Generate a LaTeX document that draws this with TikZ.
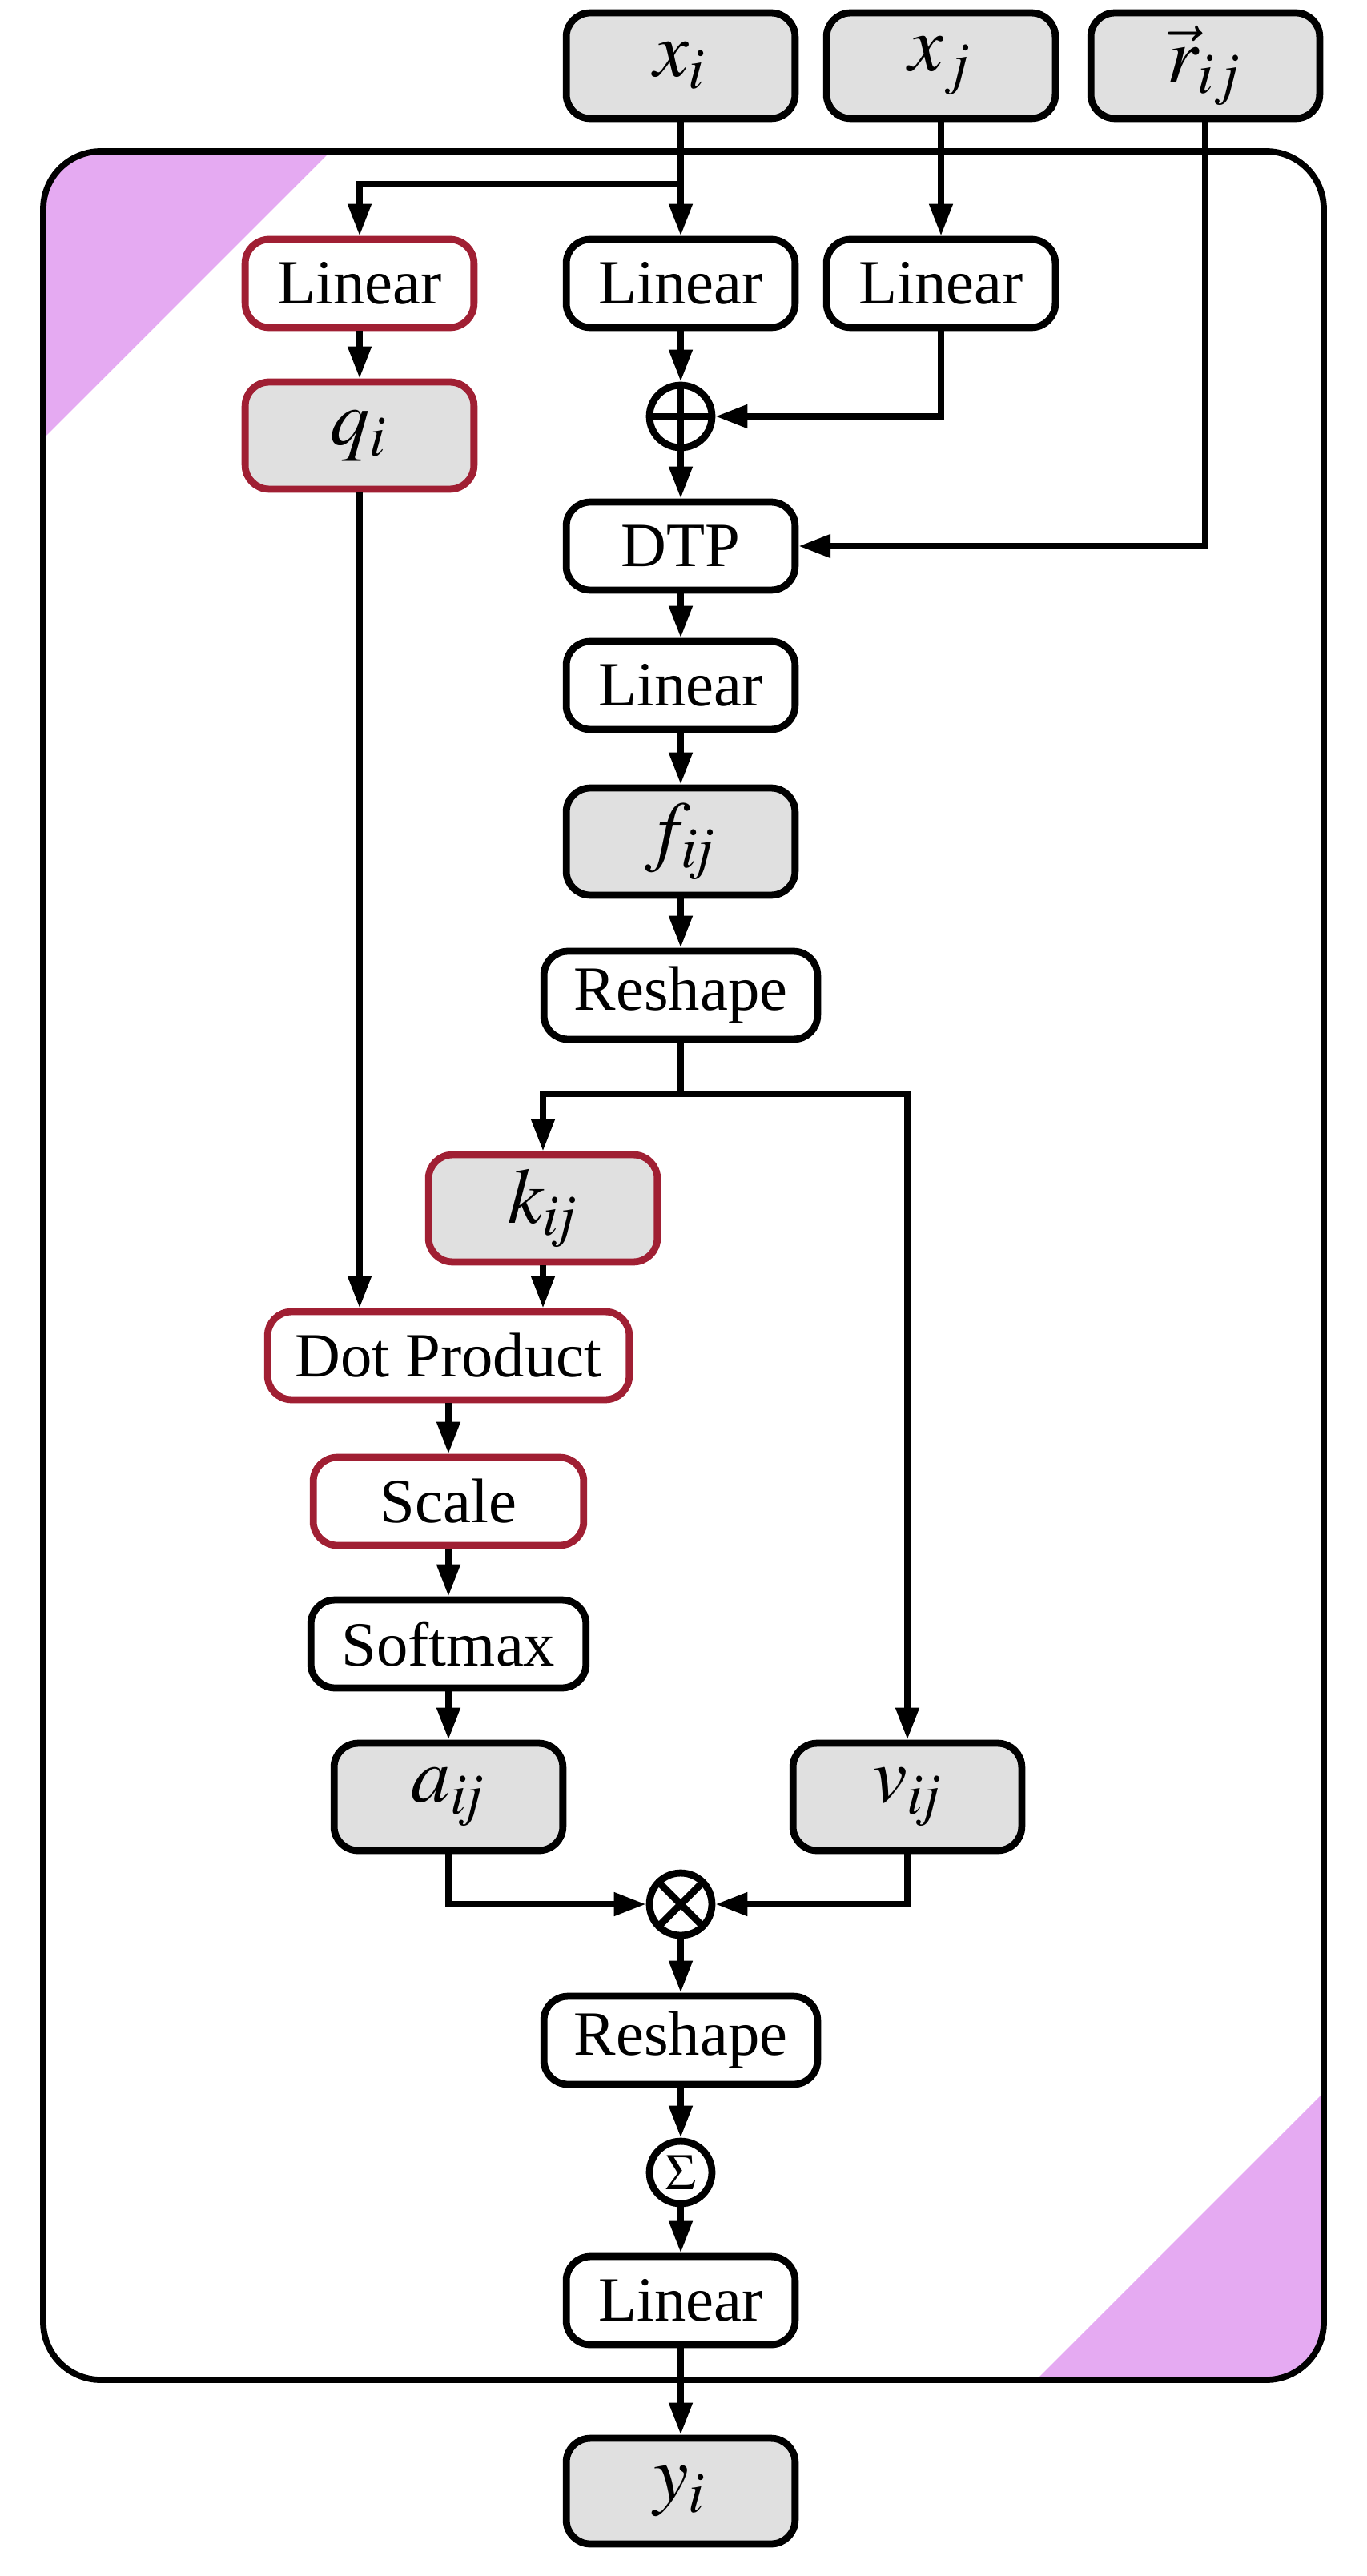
\documentclass[tikz,border=0pt]{standalone}
\usepackage{mathptmx}
\usepackage[no-math]{fontspec}
\setmainfont{Liberation Serif}
\usetikzlibrary{arrows.meta,positioning}
\def\outerbox{(54,189) rectangle (1653,2972)}
\def\topcorner{(54,189) -- (413,189) -- (54,548) -- cycle}
\def\bottomcorner{(1653,2972) -- (1294,2972) -- (1653,2613) -- cycle}
\definecolor{var area}{HTML}{E0E0E0}
\definecolor{attn edge}{HTML}{A01F33}
\definecolor{corner area}{HTML}{E5AAF2}
\tikzset{block/.style={draw, line width=1.25pt, rounded corners=0.15cm, fill=white,
		minimum width=1.43cm, minimum height=0.55cm, inner sep=0pt,
		font=\fontsize{11.2}{13}\selectfont},
	var/.style={block, fill=var area, minimum height=0.67cm, font=\fontsize{14}{16}\selectfont},
	attn/.style={draw=attn edge},
	op/.style={draw, circle, line width=1.25pt, minimum size=0.39cm, inner sep=0pt},
	flow/.style={line width=1.1pt, -{Triangle[length=2mm,width=1.4mm]}}}

\begin{document}
\begin{tikzpicture}[x=0.005cm, y=-0.005cm]
		\useasboundingbox (0,0) rectangle (1706,3217);
		\begin{scope}
		\clip[rounded corners=0.36cm] \outerbox;
		\fill[corner area] \topcorner;
		\fill[corner area] \bottomcorner;
		\end{scope}
		\draw[line width=1.1pt, rounded corners=0.36cm] \outerbox;
		
		% inputs
		\node[var, minimum height=0.66cm] (xi) at (850,82) {$x_i$};
		\node[var, minimum height=0.66cm] (xj) at (1175,82) {$x_j$};
		\node[var, minimum height=0.66cm] (rij) at (1505,82) {$\vec{r}_{ij}$};
		\coordinate (qsplit) at (850,230);
		
		\node[block, attn] (linq) at (449,354) {Linear};
		\node[block] (linx) at (850,354) {Linear};
		\node[block] (linj) at (1175,354) {Linear};
		\node[var, attn] (qi) at (449,544) {$q_i$};
		\node[op, path picture={\draw[line width=1.25pt] (path picture bounding box.north) -- (path picture bounding box.south)
			(path picture bounding box.west) -- (path picture bounding box.east);}] (plus) at (850,520) {};
		\node[block] (dtp) at (850,682) {DTP};
		\node[block] (linf) at (850,856) {Linear};
		\node[var] (fij) at (850,1051) {$f_{\mathit{ij}}$};
		\node[block, minimum width=1.71cm] (reshk) at (850,1243) {Reshape};
		\coordinate (kvsplit) at (850,1366);
		
		% attention
		\node[var, attn] (kij) at (678,1509) {$k_{\mathit{ij}}$};
		\node[block, attn, minimum width=2.26cm] (dot) at (560,1693) {Dot Product};
		\node[block, attn, minimum width=1.69cm] (scale) at (560,1875) {Scale};
		\node[block, minimum width=1.72cm] (soft) at (560,2053) {Softmax};
		\node[var] (aij) at (560,2244) {$a_{\mathit{ij}}$};
		\node[var] (vij) at (1133,2244) {$v_{\mathit{ij}}$};
		\node[op, path picture={\draw[line width=1.25pt] (path picture bounding box.north west) -- (path picture bounding box.south east)
			(path picture bounding box.south west) -- (path picture bounding box.north east);}] (times) at (850,2378) {};
		\node[block, minimum width=1.71cm] (reshy) at (850,2548) {Reshape};
		\node[op, font=\fontsize{9}{10}\selectfont] (sum) at (850,2713) {$\Sigma$};
		\node[block] (linout) at (850,2873) {Linear};
		\node[var, minimum height=0.66cm] (yi) at (850,3111) {$y_i$};
		
		\draw[flow] (xi) -- (linx);
		\draw[line width=1.1pt] (xi) -- (qsplit);
		\draw[flow] (qsplit) -| (linq);
		\draw[flow] (xj) -- (linj);
		\draw[flow] (linq) -- (qi);
		\draw[flow] (linx) -- (plus);
		\draw[flow] (linj) |- (plus);
		\draw[flow] (plus) -- (dtp);
		\draw[flow] (rij) |- (dtp);
		\draw[flow] (dtp) -- (linf);
		\draw[flow] (linf) -- (fij);
		\draw[flow] (fij) -- (reshk);
		\draw[line width=1.1pt] (reshk) -- (kvsplit);
		\draw[flow] (kvsplit) -| (kij);
		\draw[flow] (kvsplit) -| (vij);
		\draw[flow] (qi) -- (qi |- dot.north);
		\draw[flow] (kij) -- (kij |- dot.north);
		\draw[flow] (dot) -- (scale);
		\draw[flow] (scale) -- (soft);
		\draw[flow] (soft) -- (aij);
		\draw[flow] (aij) |- (times);
		\draw[flow] (vij) |- (times);
		\draw[flow] (times) -- (reshy);
		\draw[flow] (reshy) -- (sum);
		\draw[flow] (sum) -- (linout);
		\draw[flow] (linout) -- (yi);
		\end{tikzpicture}
\end{document}
